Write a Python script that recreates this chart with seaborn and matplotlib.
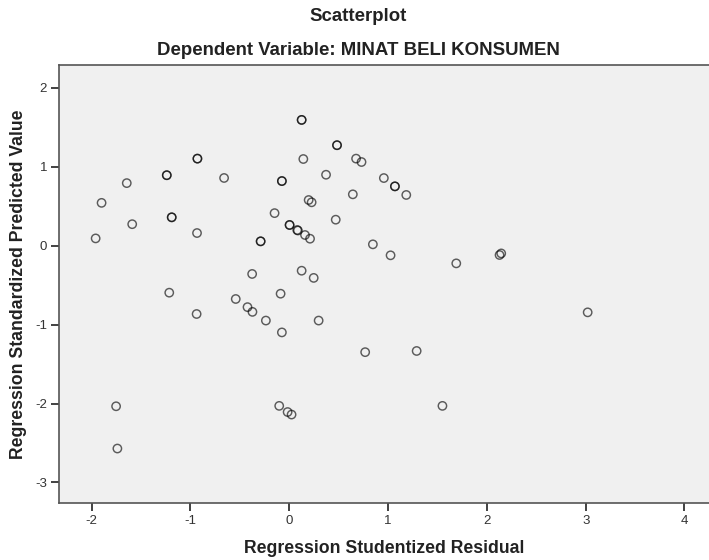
import matplotlib
matplotlib.use("Agg")
import matplotlib.pyplot as plt
import seaborn as sns
import pandas as pd

# Regression Studentized Residual (x) and Regression Standardized Predicted Value (y)
resid = [-1.96, -1.90, -1.645, -1.59, -1.24, -1.24, -1.19, -1.19, -0.93, -0.93,
         -0.934, -0.66, -0.376, -0.29, -0.29, -0.149, -0.075, -0.075, 0.003, 0.003,
         0.08, 0.125, 0.125, 0.483, 0.483, 0.142, 0.676, 0.731, 0.372, 0.957,
         1.069, 1.069, 1.184, 0.643, 0.196, 0.226, 0.47, 0.087, 0.159, 0.21,
         0.846, 1.025, 1.69, 2.128, 2.145, 0.125, 0.247, -1.215, -0.542, -0.423,
         -0.373, -0.938, -1.753, -1.74, -0.088, -0.237, 0.297, -0.075, 0.768, 1.289,
         -0.102, -0.017, 0.023, 1.55, 3.02]
pred = [0.09, 0.54, 0.79, 0.27, 0.89, 0.89, 0.357, 0.357, 1.10, 1.10,
        0.158, 0.855, -0.36, 0.053, 0.053, 0.41, 0.816, 0.816, 0.26, 0.26,
        0.196, 1.59, 1.59, 1.27, 1.27, 1.095, 1.10, 1.057, 0.896, 0.854,
        0.749, 0.749, 0.64, 0.648, 0.576, 0.547, 0.327, 0.19, 0.133, 0.086,
        0.015, -0.124, -0.226, -0.12, -0.10, -0.319, -0.41, -0.597, -0.677, -0.78,
        -0.84, -0.867, -2.035, -2.57, -0.61, -0.95, -0.95, -1.10, -1.35, -1.335,
        -2.03, -2.108, -2.14, -2.03, -0.846]

x_ticks = [-2, -1, 0, 1, 2, 3, 4]
y_ticks = [-3, -2, -1, 0, 1, 2]

title = "Scatterplot"
subtitle = "Dependent Variable: MINAT BELI KONSUMEN"
xlabel = "Regression Studentized Residual"
ylabel = "Regression Standardized Predicted Value"

df = pd.DataFrame({"resid": resid, "pred": pred})

sns.set_style("white")
plt.rcParams["font.family"] = ["Liberation Sans", "DejaVu Sans"]

fig = plt.figure(figsize=(7.09, 5.6), dpi=100)
ax = fig.add_axes([0.0832, 0.1013, 0.9168, 0.7826])
ax.set_facecolor("#f0f0f0")

sns.scatterplot(data=df, x="resid", y="pred", ax=ax, s=36, marker="o",
                facecolor="none", edgecolor=(0, 0, 0, 0.62), linewidth=1.05)

ax.set_xlim(-2.331, 4.248)
ax.set_ylim(-3.263, 2.285)
ax.set_xticks(x_ticks)
ax.set_yticks(y_ticks)
ax.set_xticklabels([str(v) for v in x_ticks])
ax.set_yticklabels([str(v) for v in y_ticks])
ax.tick_params(axis="both", direction="out", length=5.5, width=1.3,
               color="#333333", labelsize=9.5, labelcolor="#333333", pad=3)
ax.tick_params(axis="x", bottom=True)
ax.tick_params(axis="y", left=True)

for side in ["left", "bottom", "top"]:
    ax.spines[side].set_visible(True)
    ax.spines[side].set_color("#555555")
    ax.spines[side].set_linewidth(1.2)
ax.spines["right"].set_visible(False)

ax.set_xlabel(xlabel, fontsize=12.7, fontweight="bold", color="#222222", labelpad=9)
ax.set_ylabel(ylabel, fontsize=12.7, fontweight="bold", color="#222222", labelpad=6)

fig.text(0.505, 0.971, title, ha="center", va="center", fontsize=13.4,
         fontweight="bold", color="#222222")
fig.text(0.506, 0.910, subtitle, ha="center", va="center", fontsize=13.4,
         fontweight="bold", color="#222222")

fig.savefig("out.png", dpi=100)
